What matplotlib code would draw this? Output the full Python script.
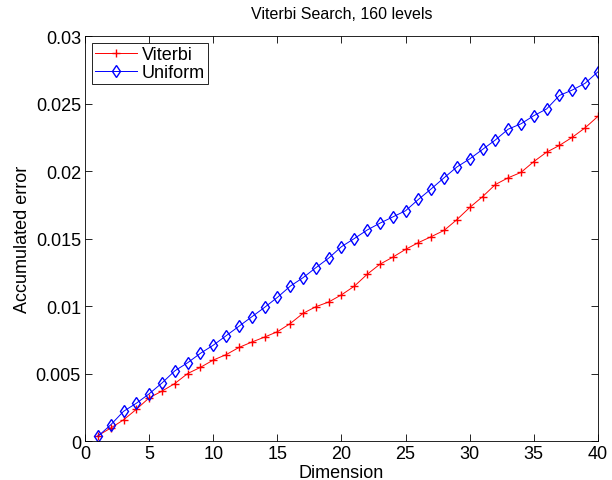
import matplotlib.pyplot as plt

plt.rcParams['font.family'] = ['Liberation Sans', 'DejaVu Sans']

dimension = list(range(1, 41))

viterbi = [
    0.00040, 0.00096, 0.00157, 0.00235, 0.00320, 0.00370, 0.00426, 0.00500,
    0.00546, 0.00600, 0.00640, 0.00693, 0.00733, 0.00770, 0.00810, 0.00870,
    0.00946, 0.00995, 0.01030, 0.01083, 0.01147, 0.01235, 0.01310, 0.01362,
    0.01420, 0.01470, 0.01514, 0.01560, 0.01640, 0.01730, 0.01810, 0.01900,
    0.01950, 0.01990, 0.02070, 0.02140, 0.02190, 0.02250, 0.02320, 0.02405,
]

uniform = [
    0.00035, 0.00120, 0.00220, 0.00280, 0.00350, 0.00430, 0.00520, 0.00580,
    0.00650, 0.00710, 0.00780, 0.00850, 0.00920, 0.00990, 0.01064, 0.01147,
    0.01210, 0.01284, 0.01355, 0.01440, 0.01500, 0.01563, 0.01614, 0.01660,
    0.01706, 0.01790, 0.01868, 0.01950, 0.02030, 0.02090, 0.02160, 0.02230,
    0.02310, 0.02350, 0.02410, 0.02460, 0.02560, 0.02600, 0.02650, 0.02735,
]


def main():
    fig = plt.figure(figsize=(6.12, 4.81), dpi=100)
    ax = fig.add_axes([0.139, 0.081, 0.838, 0.842])

    ax.plot(dimension, viterbi, color='red', marker='+', markersize=6,
            linewidth=0.7, label='Viterbi')
    ax.plot(dimension, uniform, color='blue', marker='d', markersize=6,
            markerfacecolor='none', linewidth=0.7, label='Uniform')

    ax.set_xlim(0, 40)
    ax.set_ylim(0, 0.03)
    ax.set_xticks(range(0, 41, 5))
    ax.set_yticks([0, 0.005, 0.01, 0.015, 0.02, 0.025, 0.03])
    ax.set_yticklabels(['0', '0.005', '0.01', '0.015', '0.02', '0.025', '0.03'])
    ax.tick_params(direction='in', top=True, right=True, labelsize=13,
                   length=5, width=0.6, pad=3)
    for s in ax.spines.values():
        s.set_linewidth(0.6)

    ax.set_xlabel('Dimension', fontsize=13, labelpad=1)
    ax.set_ylabel('Accumulated error', fontsize=13, labelpad=3)
    ax.set_title('Viterbi Search, 160 levels', fontsize=11.5, pad=13)

    leg = ax.legend(loc='upper left', fontsize=13, fancybox=False,
                    edgecolor='black', framealpha=1, borderaxespad=0.4,
                    handlelength=2.3, handletextpad=0.3, borderpad=0.15,
                    labelspacing=0.05)
    leg.get_frame().set_linewidth(0.6)

    fig.savefig('out.png', dpi=100)


if __name__ == "__main__":
    main()
